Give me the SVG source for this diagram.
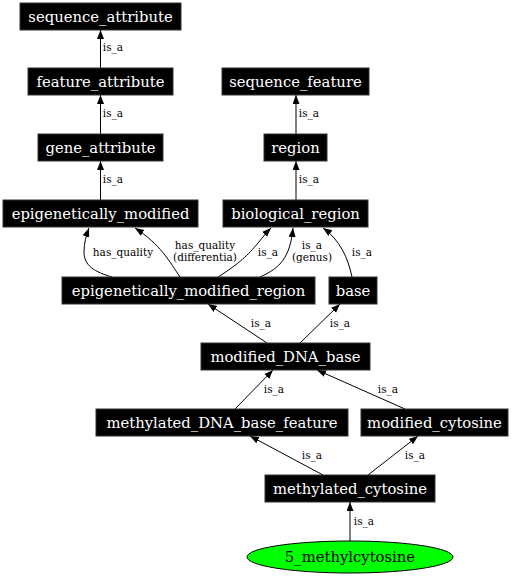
<svg xmlns="http://www.w3.org/2000/svg" width="515" height="576" viewBox="0 0 515 576">
<style>
.box{fill:#000;stroke:#333;stroke-width:1}
.nt{font-family:"DejaVu Serif",serif;font-size:14.8px;fill:#fff;text-anchor:middle}
.et{font-family:"DejaVu Serif",serif;font-size:10.5px;fill:#000;text-anchor:middle}
.e{fill:none;stroke:#000;stroke-width:1;marker-end:url(#arr)}
</style>
<defs>
<marker id="arr" markerUnits="userSpaceOnUse" markerWidth="10" markerHeight="8" refX="9" refY="3.5" orient="auto">
<path d="M0,0 L9,3.5 L0,7 Z" fill="#000"/>
</marker>
</defs>
<rect width="515" height="576" fill="#fff"/>
<g id="edges">
<path class="e" d="M100.5,68 L100.5,30"/>
<text class="et" x="113" y="51">is_a</text>
<path class="e" d="M100.5,134 L100.5,95"/>
<text class="et" x="113" y="117">is_a</text>
<path class="e" d="M100.5,200 L100.5,161"/>
<text class="et" x="113" y="183">is_a</text>
<path class="e" d="M296,134 L296,95"/>
<text class="et" x="309" y="117">is_a</text>
<path class="e" d="M296,200 L296,161"/>
<text class="et" x="309" y="183">is_a</text>
<path class="e" d="M112,277 C95,272 84,266 84,252 C84,243 86,236 89,228"/>
<text class="et" x="123" y="256">has_quality</text>
<path class="e" d="M180,277 C170,262 160,244 135,228"/>
<text class="et" x="205" y="248.5">has_quality</text>
<text class="et" x="205" y="261">(differentia)</text>
<path class="e" d="M218,277 C240,263 248,255 258,243 C263,237 267,232 271,228"/>
<text class="et" x="268" y="256">is_a</text>
<path class="e" d="M260,277 C280,268 290,258 293,228"/>
<text class="et" x="312" y="248.5">is_a</text>
<text class="et" x="312" y="261">(genus)</text>
<path class="e" d="M352,277 C348,258 340,240 323,228"/>
<text class="et" x="362" y="256">is_a</text>
<path class="e" d="M267,343 L208,304"/>
<text class="et" x="261" y="327">is_a</text>
<path class="e" d="M300,343 L340,304"/>
<text class="et" x="340" y="327">is_a</text>
<path class="e" d="M235,409 L273,370"/>
<text class="et" x="274" y="393">is_a</text>
<path class="e" d="M405,409 L317,370"/>
<text class="et" x="388" y="393">is_a</text>
<path class="e" d="M323,475 L250,436"/>
<text class="et" x="312" y="459">is_a</text>
<path class="e" d="M368,475 L418,436"/>
<text class="et" x="415" y="459">is_a</text>
<path class="e" d="M350,541 L350,502"/>
<text class="et" x="364" y="525">is_a</text>
</g>
<g id="sequence_attribute"><rect class="box" x="20" y="3" width="161" height="27"/><text class="nt" x="100.5" y="21.5">sequence_attribute</text></g>
<g id="feature_attribute"><rect class="box" x="28" y="68" width="145" height="27"/><text class="nt" x="100.5" y="86.5">feature_attribute</text></g>
<g id="gene_attribute"><rect class="box" x="38" y="134" width="125" height="27"/><text class="nt" x="100.5" y="152.5">gene_attribute</text></g>
<g id="epigenetically_modified"><rect class="box" x="3" y="200" width="195" height="27"/><text class="nt" x="100.5" y="218.5">epigenetically_modified</text></g>
<g id="sequence_feature"><rect class="box" x="222" y="68" width="147" height="27"/><text class="nt" x="295.5" y="86.5">sequence_feature</text></g>
<g id="region"><rect class="box" x="264" y="134" width="63" height="27"/><text class="nt" x="295.5" y="152.5">region</text></g>
<g id="biological_region"><rect class="box" x="223" y="200" width="145" height="27"/><text class="nt" x="295.5" y="218.5">biological_region</text></g>
<g id="epigenetically_modified_region"><rect class="box" x="62" y="277" width="253" height="27"/><text class="nt" x="188.5" y="295.5">epigenetically_modified_region</text></g>
<g id="base"><rect class="box" x="329" y="277" width="48" height="27"/><text class="nt" x="353" y="295.5">base</text></g>
<g id="modified_DNA_base"><rect class="box" x="201" y="343" width="169" height="27"/><text class="nt" x="285.5" y="361.5">modified_DNA_base</text></g>
<g id="methylated_DNA_base_feature"><rect class="box" x="96" y="409" width="252" height="27"/><text class="nt" x="222" y="427.5">methylated_DNA_base_feature</text></g>
<g id="modified_cytosine"><rect class="box" x="361" y="409" width="147" height="27"/><text class="nt" x="434.5" y="427.5">modified_cytosine</text></g>
<g id="methylated_cytosine"><rect class="box" x="265" y="475" width="170" height="27"/><text class="nt" x="350" y="493.5">methylated_cytosine</text></g>
<g id="5_methylcytosine"><ellipse cx="350" cy="557" rx="103" ry="16" fill="#00ff00" stroke="#000"/><text class="nt" x="350" y="562" style="fill:#000">5_methylcytosine</text></g>
</svg>
